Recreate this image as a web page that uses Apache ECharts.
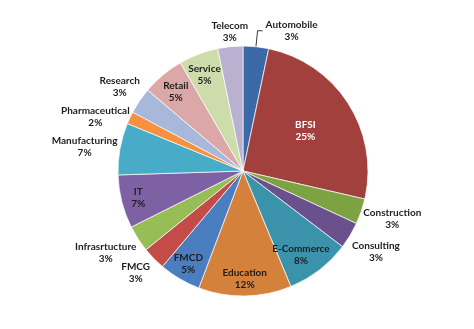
<!DOCTYPE html>
<html>
<head>
<meta charset="utf-8">
<script src="https://cdn.jsdelivr.net/npm/echarts@6/dist/echarts.min.js"></script>
<style>
  html, body { margin: 0; padding: 0; background: #ffffff; }
  #chart { width: 474px; height: 329px; }
</style>
</head>
<body>
<div id="chart"></div>
<script>
// Share of respondents by industry sector (percent)
const sectors = ['Automobile', 'BFSI', 'Construction', 'Consulting', 'E-Commerce', 'Education',
  'FMCD', 'FMCG', 'Infrasrtucture', 'IT', 'Manufacturing', 'Pharmaceutical', 'Research',
  'Retail', 'Service', 'Telecom'];
const shares = [3.3, 25.3, 3.3, 3.45, 8.4, 12.0, 5.4, 3.0, 3.45, 6.9, 6.7, 1.6, 3.4, 5.45, 5.1, 3.25];
const sliceColors = ['#3c69a6', '#a2403e', '#7da242', '#6a508c', '#3b93ab', '#d4813b',
  '#4a7ec1', '#c34c49', '#97bd57', '#7e61a5', '#48acc8', '#f5913f', '#a8b8db',
  '#dba8a7', '#ccdcab', '#bab0d0'];

// Label rings: distance of the label centre from the pie centre, and which sectors use it
const labelRings = [
  { dist: 71,  names: ['BFSI'], color: '#ffffff' },
  { dist: 105, names: ['E-Commerce', 'Education', 'FMCD', 'IT', 'Retail', 'Service'], color: '#1e1e1e' },
  { dist: 146, names: ['Telecom', 'FMCG', 'Research'], color: '#1e1e1e' },
  { dist: 158, names: ['Construction', 'Consulting', 'Infrasrtucture', 'Manufacturing', 'Pharmaceutical'], color: '#1e1e1e' }
];
const leaderLabelled = ['Automobile'];
// Small nudges for crowded labels (pixels)
const labelNudge = {
  'Telecom': [2, 9],
  'Service': [0, 5],
  'Retail': [2, 4],
  'E-Commerce': [-8, -2],
  'Construction': [-3, -4],
  'Consulting': [-5, -2],
  'Infrasrtucture': [-2, -6],
  'FMCG': [-1, -3],
  'Manufacturing': [0, 4],
  'Pharmaceutical': [-2, 14]
};

const CENTER = [243, 171];
const RADIUS = 125;

const textBase = {
  fontFamily: 'Lato',
  fontWeight: 'bold',
  fontSize: 10,
  lineHeight: 12
};

function labelText(p) {
  return '{c|' + p.name + '}\n{c|' + Math.round(p.percent) + '%}';
}

function richFor(color) {
  return { c: Object.assign({ align: 'center', color: color }, textBase) };
}

function layoutFor(params) {
  const nudge = labelNudge[sectors[params.dataIndex]] || [0, 0];
  return { hideOverlap: false, moveOverlap: null, dx: nudge[0], dy: nudge[1] };
}

const mainSeries = {
  type: 'pie',
  center: CENTER,
  radius: [0, RADIUS],
  startAngle: 90,
  clockwise: true,
  avoidLabelOverlap: false,
  silent: true,
  itemStyle: { borderColor: '#ffffff', borderWidth: 0.7 },
  label: {
    show: false,
    position: 'outside',
    formatter: labelText,
    distanceToLabelLine: 3,
    rich: richFor('#1e1e1e')
  },
  labelLine: { show: false, length: 16, length2: 5, smooth: false,
    lineStyle: { color: '#3a3a3a', width: 1 } },
  labelLayout: function (params) {
    // the leader-lined label keeps its line attached, so no nudge here
    return { hideOverlap: false, moveOverlap: null };
  },
  data: sectors.map((name, i) => ({
    name: name,
    value: shares[i],
    itemStyle: { color: sliceColors[i] },
    label: { show: leaderLabelled.includes(name) },
    labelLine: { show: leaderLabelled.includes(name) }
  }))
};

// Invisible pies with the same sectors; their inside labels sit halfway out,
// so a ring of radius 2*dist places each label centre at dist along the sector's mid-angle.
const ringSeries = labelRings.map(ring => ({
  type: 'pie',
  center: CENTER,
  radius: [0, ring.dist * 2],
  startAngle: 90,
  clockwise: true,
  avoidLabelOverlap: false,
  silent: true,
  itemStyle: { color: 'rgba(0,0,0,0)', borderWidth: 0 },
  emphasis: { disabled: true },
  label: {
    position: 'inside',
    formatter: labelText,
    rich: richFor(ring.color)
  },
  labelLine: { show: false },
  labelLayout: layoutFor,
  data: sectors.map((name, i) => ({
    name: name,
    value: shares[i],
    label: { show: ring.names.includes(name) }
  }))
}));

const chart = echarts.init(document.getElementById('chart'), null, { renderer: 'canvas' });
chart.setOption({
  backgroundColor: '#ffffff',
  animation: false,
  series: [mainSeries].concat(ringSeries)
});
</script>
</body>
</html>
